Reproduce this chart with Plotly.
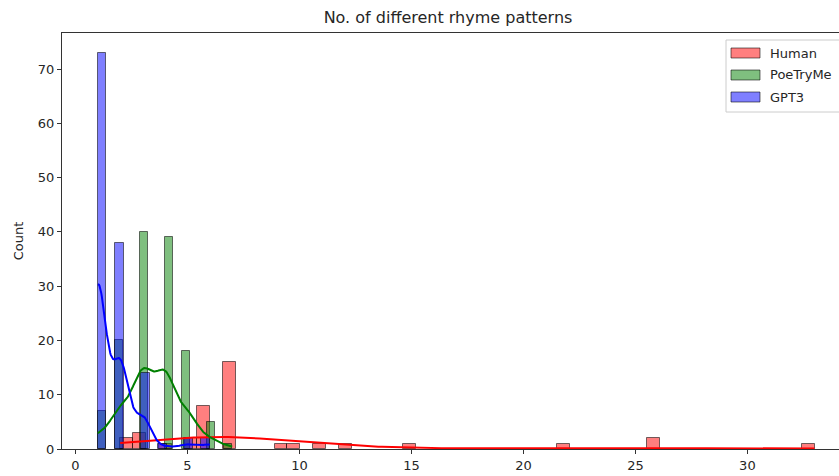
import numpy as np
import plotly.graph_objects as go

# ---------------- data ----------------
series_names = ["Human", "PoeTryMe", "GPT3"]
human_values = [2, 3, 4, 5, 6, 7, 9, 10, 11, 12, 15, 22, 26, 33]
human_counts = [2, 3, 1, 2, 8, 16, 1, 1, 1, 1, 1, 1, 2, 1]
poetryme_values = [1, 2, 3, 4, 5, 6, 7]
poetryme_counts = [7, 20, 40, 39, 18, 5, 1]
gpt3_values = [1, 2, 3, 4, 5, 6]
gpt3_counts = [73, 38, 14, 1, 2, 2]
bin_counts = [54, 16, 13]          # number of histogram bins per series
x_ticks = [0, 5, 10, 15, 20, 25, 30]
y_ticks = [0, 10, 20, 30, 40, 50, 60, 70]
title_text = "No. of different rhyme patterns"
y_label = "Count"

# ---------------- styles ----------------
fills = ["rgba(255,0,0,0.5)", "rgba(0,128,0,0.5)", "rgba(0,0,255,0.5)"]
lines = ["rgb(255,0,0)", "rgb(0,128,0)", "rgb(0,0,255)"]
edge = "rgba(0,0,0,0.55)"
FONT = "DejaVu Sans"
TXT = "#262626"
W, H = 839, 476
ML, MR, MT, MB = 62, 0, 33, 27


def expand(values, counts):
    return np.repeat(np.array(values, dtype=float), counts)


def kde_curve(data, nbins):
    n = len(data)
    bw = data.std(ddof=1) * n ** (-1 / 5)
    grid = np.linspace(data.min(), data.max(), 200)
    z = (grid[:, None] - data[None, :]) / bw
    dens = np.exp(-0.5 * z ** 2).sum(axis=1) / (n * bw * np.sqrt(2 * np.pi))
    binw = (data.max() - data.min()) / nbins
    return grid, dens * n * binw


datasets = [
    expand(human_values, human_counts),
    expand(poetryme_values, poetryme_counts),
    expand(gpt3_values, gpt3_counts),
]

fig = go.Figure()

# bars
for name, data, nb, fc in zip(series_names, datasets, bin_counts, fills):
    edges = np.linspace(data.min(), data.max(), nb + 1)
    cnt, _ = np.histogram(data, edges)
    centers = (edges[:-1] + edges[1:]) / 2
    m = cnt > 0
    fig.add_trace(go.Bar(
        x=centers[m], y=cnt[m], width=edges[1] - edges[0], name=name,
        marker=dict(color=fc, line=dict(color=edge, width=1)),
        showlegend=False,
    ))

# kde lines (on top)
for name, data, nb, lc in zip(series_names, datasets, bin_counts, lines):
    gx, gy = kde_curve(data, nb)
    fig.add_trace(go.Scatter(x=gx, y=gy, mode="lines", name=name,
                             line=dict(color=lc, width=2), showlegend=False))


def px_x(px):
    return (px - ML) / (W - ML - MR)


def px_y(py):
    return (H - MB - py) / (H - MT - MB)


shapes = []
annotations = []
# legend frame
shapes.append(dict(type="rect", xref="paper", yref="paper",
                   x0=px_x(726), x1=px_x(852), y0=px_y(112), y1=px_y(40),
                   line=dict(color="#cccccc", width=1),
                   fillcolor="rgba(255,255,255,0.8)", layer="above"))
for i, (name, fc) in enumerate(zip(series_names, fills)):
    cy = 53 + 22 * i
    shapes.append(dict(type="rect", xref="paper", yref="paper",
                       x0=px_x(731), x1=px_x(760), y0=px_y(cy + 5), y1=px_y(cy - 5),
                       line=dict(color=edge, width=1), fillcolor=fc, layer="above"))
    annotations.append(dict(xref="paper", yref="paper", x=px_x(768), y=px_y(cy),
                            text=name, showarrow=False, xanchor="left", yanchor="middle",
                            font=dict(family=FONT, size=13, color=TXT)))

fig.update_layout(
    width=W, height=H,
    margin=dict(l=ML, r=MR, t=MT, b=MB, pad=0),
    paper_bgcolor="white", plot_bgcolor="white",
    barmode="overlay", bargap=0,
    showlegend=False,
    font=dict(family=FONT, size=13, color=TXT),
    title=dict(text=title_text, x=448 / W, xref="container", xanchor="center",
               y=1 - 17 / H, yref="container", yanchor="middle",
               font=dict(family=FONT, size=16, color=TXT)),
    xaxis=dict(range=[-0.6, 34.09], tickvals=x_ticks, ticks="outside", ticklen=4,
               tickcolor="#333", showline=True, linecolor="#333", linewidth=1,
               mirror=True, showgrid=False, zeroline=False,
               tickfont=dict(family=FONT, size=13, color=TXT)),
    yaxis=dict(range=[0, 76.65], tickvals=y_ticks, ticks="outside", ticklen=4,
               tickcolor="#333", showline=True, linecolor="#333", linewidth=1,
               showgrid=False, zeroline=False,
               title=dict(text=y_label, standoff=11,
                          font=dict(family=FONT, size=13, color=TXT)),
               tickfont=dict(family=FONT, size=13, color=TXT)),
    shapes=shapes, annotations=annotations,
)

fig.write_html("out.html")
